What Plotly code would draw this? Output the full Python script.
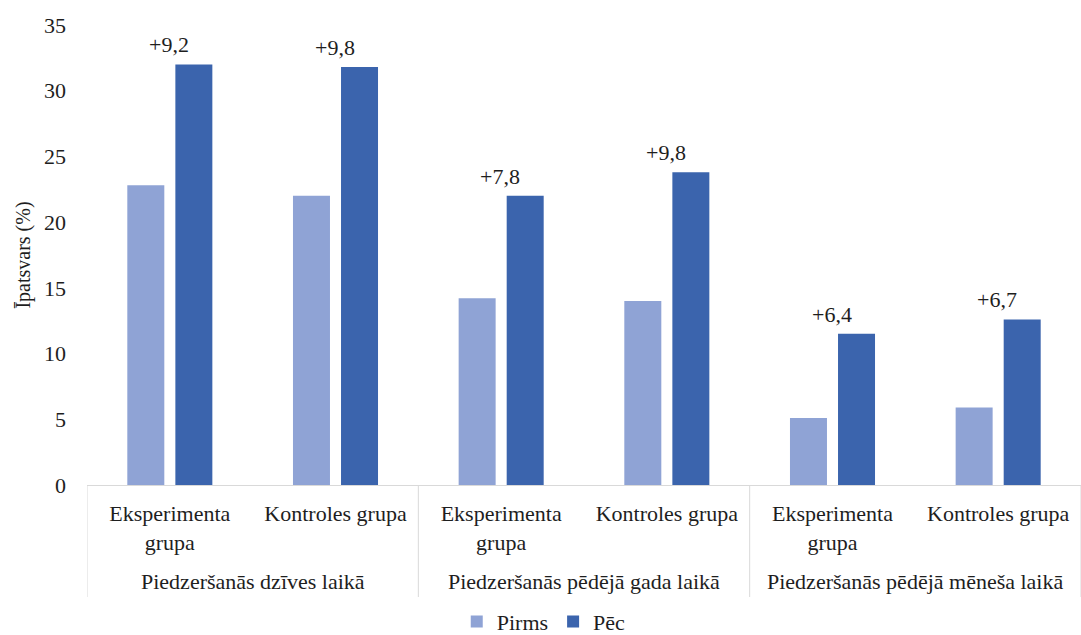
import plotly.graph_objects as go

periods = ["Piedzeršanās dzīves laikā", "Piedzeršanās pēdējā gada laikā", "Piedzeršanās pēdējā mēneša laikā"]
groups = ["Eksperimenta<br>grupa", "Kontroles grupa"]
pirms = [22.8, 22.0, 14.2, 14.0, 5.1, 5.9]
pec = [32.0, 31.8, 22.0, 23.8, 11.5, 12.6]
diff_labels = ["+9,2", "+9,8", "+7,8", "+9,8", "+6,4", "+6,7"]

inner = [g for _ in periods for g in groups]
xpos = list(range(len(inner)))

FONT = "Liberation Serif"
TXT = "#1e1e1e"
FS = 22

fig = go.Figure()
fig.add_trace(go.Bar(x=xpos, y=pirms, name="Pirms", marker_color="#8FA3D5",
                     marker_line_width=0))
fig.add_trace(go.Bar(x=xpos, y=pec, name="Pēc", marker_color="#3B64AD",
                     marker_line_width=0))

for i, (lab, v) in enumerate(zip(diff_labels, pec)):
    fig.add_annotation(x=i, y=v, text=lab, showarrow=False, yanchor="bottom",
                       xanchor="center", yshift=5, xshift=-1,
                       font=dict(family=FONT, size=FS, color=TXT))

ng = len(groups)
for k, p in enumerate(periods):
    fig.add_annotation(x=k * ng + (ng - 1) / 2, y=-0.2087, xref="x", yref="paper",
                       text=p, showarrow=False, yanchor="middle", xanchor="center",
                       font=dict(family=FONT, size=FS, color=TXT))
for k in range(len(periods) + 1):
    fig.add_shape(type="line", xref="x", yref="paper", x0=k * ng - 0.5, x1=k * ng - 0.5,
                  y0=0, y1=-0.2435, line=dict(color="#d9d9d9", width=1))

fig.update_layout(
    width=1081, height=635,
    margin=dict(l=87, r=0, t=25, b=150),
    plot_bgcolor="white", paper_bgcolor="white",
    barmode="group", bargap=0.42, bargroupgap=0.23,
    font=dict(family=FONT, size=FS, color=TXT),
    showlegend=True,
    legend=dict(orientation="h", xref="container", yref="container",
                x=0.503, xanchor="center", y=0.021, yanchor="middle",
                font=dict(family=FONT, size=FS, color=TXT)),
    xaxis=dict(range=[-0.5, len(inner) - 0.5], tickvals=xpos, ticktext=inner,
               showline=True, linecolor="#d9d9d9", linewidth=1, showgrid=False,
               zeroline=False, ticks="", automargin=False, ticklabelstandoff=9,
               tickfont=dict(family=FONT, size=FS, color=TXT)),
    yaxis=dict(range=[0, 35], dtick=5, showgrid=False, zeroline=False, showline=False,
               ticks="", automargin=False, ticklabelstandoff=20,
               tickfont=dict(family=FONT, size=FS, color=TXT),
               title=dict(text="Īpatsvars (%)", font=dict(family=FONT, size=20, color=TXT),
                          standoff=8)),
)

fig.write_html("out.html", config={"displayModeBar": False},
               post_script="document.body.style.margin='0';")
